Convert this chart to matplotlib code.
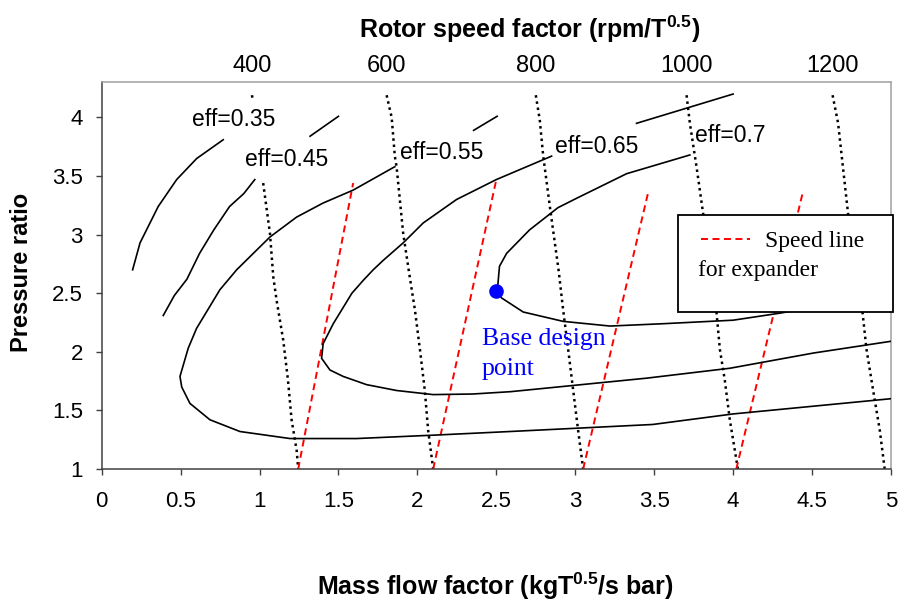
import matplotlib
matplotlib.use('Agg')
import matplotlib.pyplot as plt
import numpy as np
from matplotlib.ticker import MultipleLocator, FuncFormatter
from matplotlib.patches import Rectangle

nan = np.nan

# efficiency contours (nan = piece hidden behind a label)
eff35_x = [0.196, 0.243, 0.295, 0.358, 0.475, 0.602, 0.77]
eff35_y = [2.70, 2.93, 3.07, 3.24, 3.47, 3.65, 3.81]

eff45_x = [0.39, 0.46, 0.54, 0.62, 0.71, 0.81, 0.90, 0.97, nan, 1.32, 1.50]
eff45_y = [2.31, 2.48, 2.62, 2.84, 3.04, 3.24, 3.35, 3.47, nan, 3.84, 4.01]

eff55_x = [2.356, 2.505, nan, 1.857, 1.593, 1.403, 1.235, 1.066, 0.855, 0.749, 0.601,
           0.548, 0.496, 0.507, 0.559, 0.686, 0.876, 1.193, 1.615, 2.12, 2.586,
           3.49, 4.0, 5.0]
eff55_y = [3.89, 4.01, nan, 3.58, 3.38, 3.27, 3.15, 2.98, 2.70, 2.53, 2.20,
           2.03, 1.79, 1.70, 1.56, 1.42, 1.32, 1.26, 1.26, 1.29, 1.32,
           1.38, 1.47, 1.60]

eff65_x = [3.388, 4.0, nan, 2.85, 2.50, 2.248, 2.037, 1.91, 1.783, 1.72, 1.657, 1.585,
           1.467, 1.403, 1.393, 1.446, 1.53, 1.678, 1.868, 2.10, 2.35, 2.59,
           3.45, 3.98, 4.51, 5.0]
eff65_y = [3.95, 4.20, nan, 3.67, 3.47, 3.30, 3.10, 2.93, 2.78, 2.70, 2.61, 2.50,
           2.24, 2.07, 1.945, 1.845, 1.79, 1.72, 1.67, 1.635, 1.64, 1.66,
           1.775, 1.86, 1.99, 2.09]

eff70_x = [3.726, 3.325, 3.008, 2.89, 2.71, 2.565, 2.52, 2.506, 2.533, 2.67,
           2.923, 3.22, 3.557, 4.0, 4.296, 4.6]
eff70_y = [3.68, 3.52, 3.31, 3.23, 3.04, 2.84, 2.73, 2.52, 2.46, 2.34,
           2.26, 2.22, 2.24, 2.27, 2.33, 2.40]

eff_labels = ['eff=0.35', 'eff=0.45', 'eff=0.55', 'eff=0.65', 'eff=0.7']
label_x = [0.57, 0.907, 1.889, 2.871, 3.758]
label_y = [3.923, 3.588, 3.645, 3.696, 3.787]

# compressor speed lines (rotor speed factor)
speeds = ['400', '600', '800', '1000', '1200']
s400_x = [0.952, 0.957, nan, 1.023, 1.066, 1.087, 1.108, 1.15, 1.18, 1.203, 1.235, 1.245]
s400_y = [4.19, 4.15, nan, 3.44, 3.01, 2.64, 2.44, 2.10, 1.76, 1.42, 1.16, 1.0]
s600_x = [1.805, 1.837, 1.857, 1.868, 1.91, 1.948, 1.984, 2.016, 2.047, 2.068, 2.10]
s600_y = [4.19, 4.0, 3.67, 3.58, 3.01, 2.67, 2.36, 2.02, 1.67, 1.33, 1.0]
s800_x = [2.75, 2.775, 2.797, 2.839, 2.895, 2.923, 2.955, 2.987, 3.018, 3.05]
s800_y = [4.19, 3.98, 3.67, 3.24, 2.69, 2.36, 2.02, 1.67, 1.33, 1.0]
s1000_x = [3.705, 3.726, 3.768, 3.81, 3.895, 3.916, 3.947, 3.979, 4.03]
s1000_y = [4.19, 3.95, 3.58, 3.18, 2.33, 2.02, 1.76, 1.42, 1.0]
s1200_x = [4.63, 4.665, 4.728, 4.82, 4.845, 4.887, 4.929, 4.96]
s1200_y = [4.19, 3.95, 3.18, 2.33, 2.02, 1.67, 1.33, 1.0]
speed_top_x = [0.952, 1.805, 2.75, 3.705, 4.63]

# expander speed lines
exp_x = [[1.245, 1.593], [2.10, 2.50], [3.05, 3.46], [4.02, 4.443]]
exp_y = [[1.0, 3.44], [1.0, 3.47], [1.0, 3.35], [1.0, 3.37]]

base_x = [2.5]
base_y = [2.52]

plt.rcParams['font.family'] = 'Liberation Sans'
plt.rcParams['mathtext.fontset'] = 'custom'
plt.rcParams['mathtext.rm'] = 'Liberation Sans'
plt.rcParams['mathtext.bf'] = 'Liberation Sans:bold'

fig = plt.figure(figsize=(8.99, 6.03), dpi=100)
ax = fig.add_axes([0.1131, 0.2222, 0.878, 0.6413])
ax.set_xlim(0, 5)
ax.set_ylim(1, 4.3)

for xs, ys in [(eff35_x, eff35_y), (eff45_x, eff45_y), (eff55_x, eff55_y),
               (eff65_x, eff65_y), (eff70_x, eff70_y)]:
    ax.plot(xs, ys, color='black', lw=1.2, zorder=3)

for xs, ys in [(s400_x, s400_y), (s600_x, s600_y), (s800_x, s800_y),
               (s1000_x, s1000_y), (s1200_x, s1200_y)]:
    ax.plot(xs, ys, color='black', lw=1.8, linestyle=(0, (1.0, 1.5)), zorder=2)

for xs, ys in zip(exp_x, exp_y):
    ax.plot(xs, ys, color='red', lw=1.4, linestyle=(0, (3.6, 2.3)), zorder=2)

ax.plot(base_x, base_y, 'o', color='blue', ms=9.5, zorder=5)
ax.text(2.407, 2.059, 'Base design', color='blue', family='Liberation Serif', fontsize=18.5, va='baseline')
ax.text(2.407, 1.803, 'point', color='blue', family='Liberation Serif', fontsize=18.5, va='baseline')

for lab, lx, ly in zip(eff_labels, label_x, label_y):
    ax.text(lx, ly, lab, fontsize=16.5, va='baseline', ha='left', zorder=4)

# rotor speed labels above the plot
for s, sx in zip(speeds, speed_top_x):
    ax.text(sx, 1.042, s, fontsize=17, ha='center', va='center',
            transform=ax.get_xaxis_transform(), clip_on=False)

# legend box like the original
ax.add_patch(Rectangle((0.7298, 0.4068), 0.2724, 0.25, transform=ax.transAxes,
                       facecolor='white', edgecolor='black', lw=1.3, zorder=6, clip_on=False))
ax.plot([0.7589, 0.8214], [0.5948, 0.5948], transform=ax.transAxes, color='red', lw=1.4,
        linestyle=(0, (3.6, 2.3)), zorder=7)
ax.text(0.8404, 0.5747, 'Speed line', transform=ax.transAxes, family='Liberation Serif',
        fontsize=17, va='baseline', zorder=7)
ax.text(0.7555, 0.4999, 'for expander', transform=ax.transAxes, family='Liberation Serif',
        fontsize=17, va='baseline', zorder=7)

ax.xaxis.set_major_locator(MultipleLocator(0.5))
ax.yaxis.set_major_locator(MultipleLocator(0.5))
fmt = FuncFormatter(lambda v, p: '%g' % v)
ax.xaxis.set_major_formatter(fmt)
ax.yaxis.set_major_formatter(fmt)
ax.tick_params(direction='out', length=4.5, width=1, color='#404040', labelsize=16)
ax.tick_params(axis='x', pad=11)
ax.tick_params(axis='y', pad=9)

for side in ['left', 'bottom']:
    ax.spines[side].set_color('#404040')
    ax.spines[side].set_linewidth(1.1)
for side in ['top', 'right']:
    ax.spines[side].set_color('#a0a0a0')
    ax.spines[side].set_linewidth(1.1)

fig.text(530 / 899, 1 - 29 / 603, r'Rotor speed factor (rpm/T$^{\mathbf{0.5}}$)',
         fontsize=18, fontweight='bold', ha='center', va='center')
fig.text(495 / 899, 1 - 586 / 603, r'Mass flow factor (kgT$^{\mathbf{0.5}}$/s bar)',
         fontsize=18, fontweight='bold', ha='center', va='center')
fig.text(22 / 899, 1 - 272 / 603, 'Pressure ratio', fontsize=17, fontweight='bold',
         ha='center', va='center', rotation=90)

fig.savefig('out.png', dpi=100)
